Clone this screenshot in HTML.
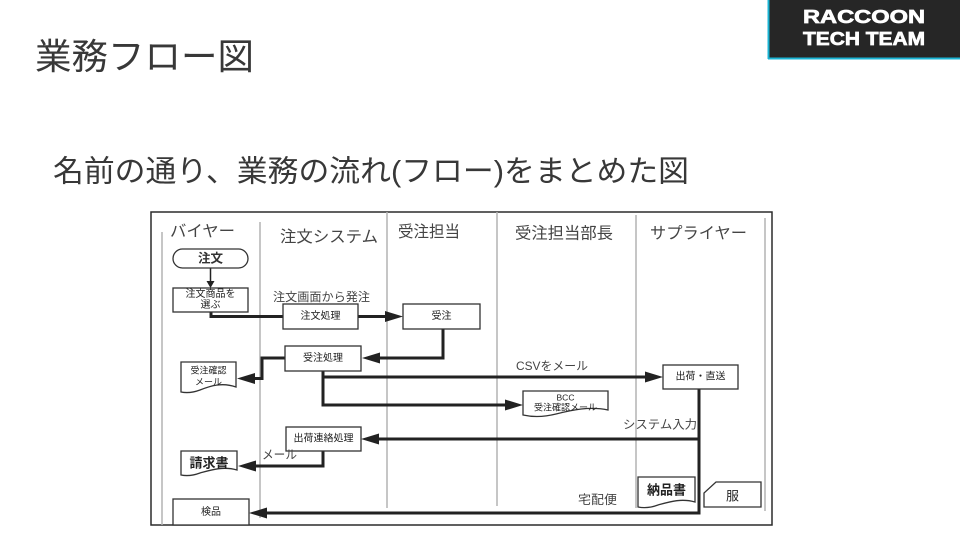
<!DOCTYPE html>
<html>
<head>
<meta charset="utf-8">
<style>
  html,body{margin:0;padding:0;background:#fff;}
  body{width:960px;height:540px;overflow:hidden;}
  svg{display:block;}
  .jp{font-family:"Liberation Sans","Noto Sans CJK JP",sans-serif;}
</style>
</head>
<body>
<svg width="960" height="540" viewBox="0 0 960 540" xmlns="http://www.w3.org/2000/svg">
  <rect x="0" y="0" width="960" height="540" fill="#ffffff"/>

  <!-- Logo -->
  <rect x="768" y="0" width="192" height="58" fill="#262626"/>
  <line x1="768.5" y1="0" x2="768.5" y2="59" stroke="#1ab4d4" stroke-width="2"/>
  <line x1="768" y1="58.5" x2="960" y2="58.5" stroke="#1ab4d4" stroke-width="2"/>
  <text x="803" y="23" font-family="Liberation Sans, sans-serif" font-weight="bold" font-size="18" fill="#ffffff" stroke="#ffffff" stroke-width="0.7" textLength="122" lengthAdjust="spacingAndGlyphs">RACCOON</text>
  <text x="803" y="45" font-family="Liberation Sans, sans-serif" font-weight="bold" font-size="18" fill="#ffffff" stroke="#ffffff" stroke-width="0.7" textLength="122" lengthAdjust="spacingAndGlyphs">TECH TEAM</text>

  <!-- Titles -->
  <text class="jp" x="35" y="56.5" dominant-baseline="central" font-size="36" fill="#383838" textLength="219" lengthAdjust="spacingAndGlyphs">業務フロー図</text>
  <text class="jp" x="53" y="172" dominant-baseline="central" font-size="30" fill="#383838" textLength="636" lengthAdjust="spacingAndGlyphs">名前の通り、業務の流れ(フロー)をまとめた図</text>

  <!-- Diagram frame -->
  <rect x="151" y="212" width="621" height="313" fill="#ffffff" stroke="#2b2b2b" stroke-width="1.5"/>

  <!-- Lane lines -->
  <g stroke="#b4b4b4" stroke-width="1.5">
    <line x1="162" y1="232" x2="162" y2="525"/>
    <line x1="260" y1="222" x2="260" y2="518"/>
    <line x1="387" y1="212" x2="387" y2="508"/>
    <line x1="497" y1="212" x2="497" y2="506"/>
    <line x1="636" y1="215" x2="636" y2="508"/>
    <line x1="765" y1="218" x2="765" y2="511"/>
  </g>

  <!-- Lane headers -->
  <g class="jp" font-size="16" fill="#444444" dominant-baseline="central">
    <text x="170" y="232" textLength="65" lengthAdjust="spacingAndGlyphs">バイヤー</text>
    <text x="280" y="237.5" textLength="98" lengthAdjust="spacingAndGlyphs">注文システム</text>
    <text x="398" y="232.5" textLength="62" lengthAdjust="spacingAndGlyphs">受注担当</text>
    <text x="515" y="234" textLength="98" lengthAdjust="spacingAndGlyphs">受注担当部長</text>
    <text x="650" y="234" textLength="97" lengthAdjust="spacingAndGlyphs">サプライヤー</text>
  </g>

  <!-- Thick connectors -->
  <g fill="none" stroke="#222222" stroke-width="3" stroke-linejoin="miter">
    <path d="M211,312 V316.5 H284"/>
    <path d="M358,316.5 H387"/>
    <path d="M443,329 V358 H380"/>
    <path d="M285,358 H262 V378.5 H255"/>
    <path d="M323,371 V405 H506"/>
    <path d="M323,377 H646"/>
    <path d="M699,389 V513 H266"/>
    <path d="M699,439 H379"/>
    <path d="M323,451 V466 H255"/>
  </g>
  <!-- Arrowheads -->
  <g fill="#222222">
    <polygon points="385,311 385,322 403,316.5"/>
    <polygon points="380,352.5 380,363.5 362,358"/>
    <polygon points="255,373 255,384 237,378.5"/>
    <polygon points="645,371.5 645,382.5 663,377"/>
    <polygon points="505,399.5 505,410.5 523,405"/>
    <polygon points="379,433.5 379,444.5 361,439"/>
    <polygon points="256,460.5 256,471.5 238,466"/>
    <polygon points="267,507.5 267,518.5 249,513"/>
  </g>
  <!-- small arrow from 注文 -->
  <line x1="210.5" y1="268" x2="210.5" y2="282" stroke="#222" stroke-width="1.5"/>
  <polygon points="206.5,281 214.5,281 210.5,288" fill="#222"/>

  <!-- Nodes -->
  <g fill="#ffffff" stroke="#333333" stroke-width="1.3">
    <rect x="173" y="249" width="75" height="19" rx="9.5"/>
    <rect x="173" y="288" width="75" height="24"/>
    <rect x="283" y="304" width="75" height="25"/>
    <rect x="403" y="304" width="77" height="25"/>
    <rect x="285" y="346" width="76" height="25"/>
    <rect x="663" y="365" width="75" height="24"/>
    <rect x="286" y="427" width="75" height="24"/>
    <rect x="173" y="499" width="76" height="26"/>
    <!-- documents with wavy bottom -->
    <path d="M181,362 H236 V387 C222,382 210,386 200,390 C192,393 186,393 181,392 Z"/>
    <path d="M523,391 H608 V410 C590,406 572,410 556,414 C544,417 532,417 523,415 Z"/>
    <path d="M181,451 H237 V470 C223,466 211,470 200,473 C192,476 186,476 181,475 Z"/>
    <path d="M638,477 H695 V502 C681,498 669,502 658,505 C650,508 643,508 638,507 Z"/>
    <!-- cut-corner card -->
    <path d="M716,482 H761 V507 H704 V493 Z"/>
  </g>

  <!-- Node texts -->
  <g class="jp" fill="#222222" dominant-baseline="central" text-anchor="middle">
    <text x="210.5" y="258.5" font-size="12.5" font-weight="bold" fill="#333">注文</text>
    <text x="210.5" y="294.5" font-size="10">注文商品を</text>
    <text x="210.5" y="305.5" font-size="10">選ぶ</text>
    <text x="320.5" y="316.5" font-size="10">注文処理</text>
    <text x="441.5" y="316.5" font-size="10">受注</text>
    <text x="323" y="358.5" font-size="10">受注処理</text>
    <text x="208.5" y="370.5" font-size="9">受注確認</text>
    <text x="208.5" y="382" font-size="9">メール</text>
    <text x="700.5" y="377" font-size="10">出荷・直送</text>
    <text x="565.5" y="397.5" font-size="8.5">BCC</text>
    <text x="565.5" y="407.5" font-size="9">受注確認メール</text>
    <text x="323.5" y="439" font-size="10">出荷連絡処理</text>
    <text x="209" y="463" font-size="13" font-weight="bold">請求書</text>
    <text x="211" y="512.5" font-size="10">検品</text>
    <text x="666.5" y="490" font-size="13" font-weight="bold">納品書</text>
    <text x="732.5" y="496" font-size="13">服</text>
  </g>

  <!-- Connector labels -->
  <g class="jp" fill="#444444" dominant-baseline="central">
    <text x="273" y="297" font-size="12" textLength="97" lengthAdjust="spacingAndGlyphs">注文画面から発注</text>
    <text x="516" y="366" font-size="12" textLength="72" lengthAdjust="spacingAndGlyphs">CSVをメール</text>
    <text x="623" y="424.5" font-size="12" textLength="74" lengthAdjust="spacingAndGlyphs">システム入力</text>
    <text x="262" y="455" font-size="12.5" textLength="35" lengthAdjust="spacingAndGlyphs">メール</text>
    <text x="578" y="500" font-size="12.5" textLength="39" lengthAdjust="spacingAndGlyphs">宅配便</text>
  </g>
</svg>
</body>
</html>
